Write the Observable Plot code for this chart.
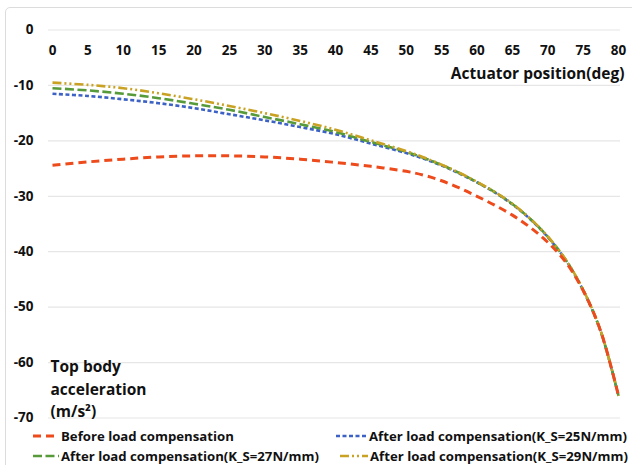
<!DOCTYPE html>
<html>
<head>
<meta charset="utf-8">
<script src="https://cdn.jsdelivr.net/npm/d3@7"></script>
<script src="https://cdn.jsdelivr.net/npm/@observablehq/plot@0.6"></script>
<style>
  html, body { margin: 0; padding: 0; background: #fff; overflow: hidden; }
  body { width: 632px; height: 465px; position: relative; font-family: "Open Sans", "Noto Sans", sans-serif; }
  #frame { position: absolute; left: 5px; top: 7px; width: 700px; height: 600px; border: 1.5px solid #dcdcdc; border-radius: 5px; box-sizing: border-box; }
  #chart { position: absolute; left: 0; top: 0; }
  #legend { position: absolute; left: 0; top: 425px; width: 632px; height: 40px; font-weight: 700; font-size: 13.2px; color: #111; }
  .item { position: absolute; display: flex; align-items: center; white-space: nowrap; }
  .item svg { display: block; margin-right: 2px; }
</style>
</head>
<body>
<div id="frame"></div>
<div id="chart"></div>
<div id="legend"></div>
<script>
const angles = [0, 5, 10, 15, 20, 25, 30, 35, 40, 45, 50, 52.5, 55, 57.5, 60, 62.5, 65, 67.5, 70, 72.5, 75, 77.5, 80];
const before = [-24.4, -23.8, -23.3, -22.9, -22.7, -22.7, -22.9, -23.3, -23.9, -24.6, -25.5, -26.2, -27.2, -28.5, -30.0, -31.6, -33.4, -35.6, -38.3, -41.8, -47.0, -54.4, -66];
const ks25 = [-11.5, -11.9, -12.5, -13.2, -14.1, -15.2, -16.3, -17.5, -18.8, -20.5, -22.2, -23.25, -24.45, -25.9, -27.5, -29.3, -31.45, -34.1, -37.35, -41.45, -46.95, -54.45, -66];
const ks27 = [-10.5, -10.9, -11.5, -12.3, -13.3, -14.4, -15.7, -17.0, -18.4, -20.2, -22.0, -23.1, -24.35, -25.8, -27.45, -29.25, -31.4, -34.05, -37.3, -41.4, -46.9, -54.4, -66];
const ks29 = [-9.5, -9.9, -10.5, -11.4, -12.5, -13.7, -15.0, -16.4, -18.0, -19.9, -21.85, -23.0, -24.3, -25.75, -27.4, -29.2, -31.35, -34.0, -37.25, -41.35, -46.85, -54.35, -66];
const xTicks = [0, 5, 10, 15, 20, 25, 30, 35, 40, 45, 50, 55, 60, 65, 70, 75, 80];
const yTicks = [0, -10, -20, -30, -40, -50, -60, -70];
const seriesNames = [
  "Before load compensation",
  "After load compensation(K_S=25N/mm)",
  "After load compensation(K_S=27N/mm)",
  "After load compensation(K_S=29N/mm)"
];
const xLabel = "Actuator position(deg)";
const yLabel = "Top body\nacceleration\n(m/s²)";

const styles = [
  {color: "#ee4b1c", dash: "8,5", width: 3},
  {color: "#3d62c6", dash: "4,2.5", width: 2.6},
  {color: "#579a3a", dash: "9,3.5", width: 2.6},
  {color: "#c9a224", dash: "9,3,2,3,2,3", width: 2.6}
];
const valuesList = [before, ks25, ks27, ks29];
const tables = valuesList.map(vals => angles.map((a, i) => ({x: a, y: vals[i]})));

const lineMark = (k) => Plot.line(tables[k], {
  x: "x", y: "y", stroke: styles[k].color, strokeWidth: styles[k].width,
  strokeDasharray: styles[k].dash, curve: "catmull-rom", strokeLinecap: "butt"
});

const chart = Plot.plot({
  width: 632,
  height: 425,
  marginLeft: 48,
  marginRight: 12,
  marginTop: 29.5,
  marginBottom: 7.5,
  style: {fontFamily: "'Open Sans', 'Noto Sans', sans-serif", background: "transparent", color: "#111"},
  x: {domain: [0, 80], range: [52, 618]},
  y: {domain: [-70, 0]},
  marks: [
    Plot.ruleY(yTicks, {stroke: "#e6e6e6", strokeWidth: 1.2}),
    Plot.axisY(yTicks, {anchor: "left", tickSize: 0, tickPadding: 15, fontSize: 13.5, fontWeight: 700, label: null, tickFormat: d => String(d)}),
    Plot.axisX(xTicks, {anchor: "top", tickSize: 0, tickPadding: 0, dy: 25, fontSize: 13.5, fontWeight: 700, label: null}),
    Plot.text([xLabel], {frameAnchor: "top-right", text: d => d, dx: 4, dy: 44, lineAnchor: "middle", textAnchor: "end", fontSize: 15.5, fontWeight: 700}),
    Plot.text([yLabel], {frameAnchor: "bottom-left", text: d => d, dx: 2, dy: -1, lineAnchor: "bottom", textAnchor: "start", fontSize: 15.5, fontWeight: 700, lineHeight: 1.45}),
    lineMark(1), lineMark(2), lineMark(3), lineMark(0)
  ]
});
document.getElementById("chart").appendChild(chart);

const legend = document.getElementById("legend");
const pos = [
  {left: 33, top: 2, w: 26},
  {left: 336, top: 2, w: 31},
  {left: 33, top: 22, w: 26},
  {left: 340, top: 22, w: 28}
];
seriesNames.forEach((name, k) => {
  const item = document.createElement("div");
  item.className = "item";
  item.style.left = pos[k].left + "px";
  item.style.top = pos[k].top + "px";
  item.style.height = "18px";
  const s = styles[k];
  item.innerHTML = `<svg width="${pos[k].w}" height="10"><line x1="0" x2="${pos[k].w}" y1="5" y2="5" stroke="${s.color}" stroke-width="${s.width}" stroke-dasharray="${s.dash}"/></svg><span>${name}</span>`;
  legend.appendChild(item);
});
</script>
</body>
</html>
